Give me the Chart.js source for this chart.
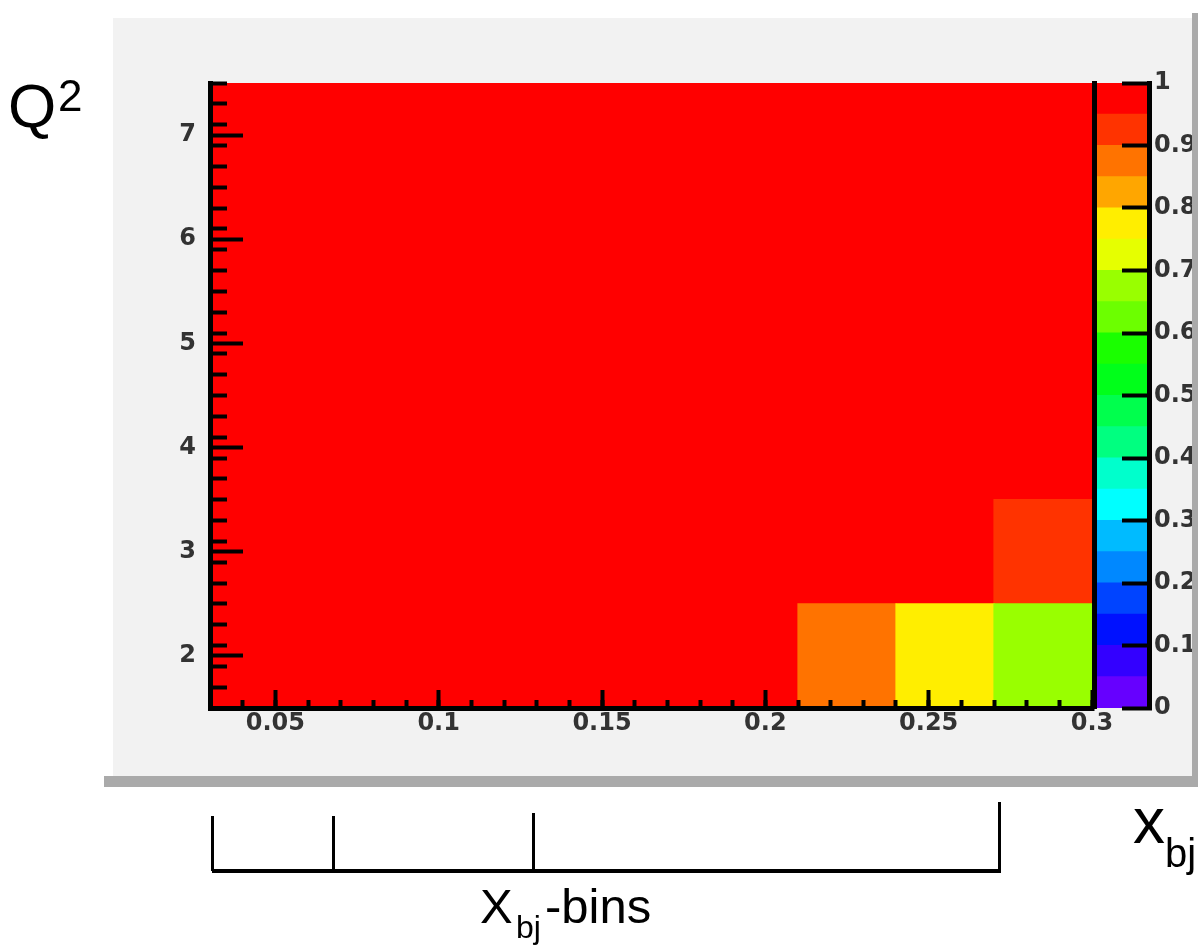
<!DOCTYPE html>
<html>
<head>
<meta charset="utf-8">
<title>Acceptance map</title>
<script src="https://cdn.jsdelivr.net/npm/chart.js@4.4.1/dist/chart.umd.min.js"></script>
<style>
  html, body { margin: 0; padding: 0; background: #fff; }
  body { width: 1198px; height: 946px; position: relative; overflow: hidden; }
  #pad { position: absolute; left: 113px; top: 18px; width: 1079px; height: 758px; background: #f2f2f2; }
  canvas { position: absolute; left: 0; top: 0; z-index: 2; }
  .shade { position: absolute; background: #aaaaaa; z-index: 3; }
  .t { position: absolute; font-family: 'Liberation Sans', Arial, sans-serif; line-height: 1; color: #000; white-space: nowrap; z-index: 4; }
</style>
</head>
<body>
<div id="pad"></div>
<canvas id="map" width="1198" height="946"></canvas>
<canvas id="palette" width="1198" height="946"></canvas>
<div class="shade" style="left:1192px;top:13px;width:6px;height:774px"></div>
<div class="shade" style="left:104px;top:776px;width:1094px;height:11px"></div>

<div class="t" style="left:8px;top:75px;font-size:62px">Q</div>
<div class="t" style="left:58px;top:74px;font-size:44px">2</div>

<div class="t" style="left:1133px;top:789px;font-size:64px">x</div>
<div class="t" style="left:1165px;top:833px;font-size:40px">bj</div>

<div class="t" style="left:480px;top:882px;font-size:49px">X</div>
<div class="t" style="left:516px;top:911px;font-size:32px">bj</div>
<div class="t" style="left:545px;top:882px;font-size:49px">-bins</div>

<script>
// bins of the map
const xbjCentres = [0.045, 0.075, 0.105, 0.135, 0.165, 0.195, 0.225, 0.255, 0.285];
const q2Low  = [1.5, 2.5, 3.5, 4.5, 5.5, 6.5];
const q2High = [2.5, 3.5, 4.5, 5.5, 6.5, 7.5];

// acceptance per x_bj bin, one row per Q^2 bin
const accQ2_2 = [1, 1, 1, 1, 1, 1, 0.87, 0.78, 0.67];
const accQ2_3 = [1, 1, 1, 1, 1, 1, 1, 1, 0.92];
const accQ2_4 = [1, 1, 1, 1, 1, 1, 1, 1, 1];
const accQ2_5 = [1, 1, 1, 1, 1, 1, 1, 1, 1];
const accQ2_6 = [1, 1, 1, 1, 1, 1, 1, 1, 1];
const accQ2_7 = [1, 1, 1, 1, 1, 1, 1, 1, 1];
const accRows = [accQ2_2, accQ2_3, accQ2_4, accQ2_5, accQ2_6, accQ2_7];

// axis ticks
const xbjTicks = [0.05, 0.1, 0.15, 0.2, 0.25, 0.3];
const q2Ticks = [2, 3, 4, 5, 6, 7];
const zTicks = [0, 0.1, 0.2, 0.3, 0.4, 0.5, 0.6, 0.7, 0.8, 0.9, 1];

// colour palette, bottom to top
const zLevels = [0, 0.05, 0.1, 0.15, 0.2, 0.25, 0.3, 0.35, 0.4, 0.45, 0.5,
                 0.55, 0.6, 0.65, 0.7, 0.75, 0.8, 0.85, 0.9, 0.95, 1];
const zColours = ['#6600ff', '#3300ff', '#0011ff', '#0044ff', '#0088ff',
                  '#00bbff', '#00ffff', '#00ffcc', '#00ff80', '#00ff4d',
                  '#00ff1a', '#1aff00', '#6cff00', '#99ff00', '#e6ff00',
                  '#ffee00', '#ffa600', '#ff7300', '#ff3300', '#ff0000'];

// x_bj bin boundaries shown under the plot
const binEdges = [0.0305, 0.0675, 0.129, 0.2715];

function colourFor(v) {
  let i = 0;
  while (i < zColours.length - 1 && v >= zLevels[i + 1]) i++;
  return zColours[i];
}

const tickFont = { family: 'DejaVu Sans', size: 24, weight: 'bold' };
const tickColour = '#333';

// bracket of the x_bj bins, drawn on the x scale
const binBracket = {
  id: 'binBracket',
  afterDraw(chart) {
    const ctx = chart.ctx;
    const x = chart.scales.x;
    const tops = [816, 816, 813, 802];
    const base = 871;
    const px = binEdges.map(e => Math.round(x.getPixelForValue(e)));
    ctx.save();
    ctx.strokeStyle = '#000';
    ctx.lineWidth = 4;
    ctx.beginPath();
    ctx.moveTo(px[0], base);
    ctx.lineTo(px[px.length - 1] + 2, base);
    ctx.stroke();
    ctx.lineWidth = 3;
    ctx.beginPath();
    px.forEach((p, i) => {
      ctx.moveTo(p + 0.5, tops[i]);
      ctx.lineTo(p + 0.5, base);
    });
    ctx.stroke();
    ctx.restore();
  }
};

// one floating-bar dataset per Q^2 row; bar width comes from the x spacing
const rowSets = accRows.map((row, r) => ({
  data: row.map((v, i) => ({ x: xbjCentres[i], y: [q2Low[r], q2High[r]], v: v })),
  backgroundColor: c => (c.raw ? colourFor(c.raw.v) : zColours[19]),
  borderWidth: 0,
  inflateAmount: 0.6,
  grouped: false,
  barPercentage: 1,
  categoryPercentage: 1,
  xAxisID: 'x',
  yAxisID: 'y'
}));

new Chart(document.getElementById('map'), {
  type: 'bar',
  data: { datasets: rowSets },
  plugins: [binBracket],
  options: {
    responsive: false,
    animation: false,
    devicePixelRatio: 1,
    events: [],
    layout: { padding: { left: 150, top: 83, right: 106, bottom: 198 } },
    plugins: { legend: { display: false }, tooltip: { enabled: false } },
    scales: {
      x: {
        type: 'linear', axis: 'x', position: 'bottom', min: 0.03, max: 0.3, offset: false, weight: 1,
        afterBuildTicks: s => { s.ticks = xbjTicks.map(v => ({ value: v })); },
        afterFit: s => { s.height = 40; },
        ticks: { callback: v => String(v), font: tickFont, color: tickColour, padding: 19, autoSkip: false, maxRotation: 0 },
        grid: { offset: false, drawOnChartArea: false, tickLength: -18, tickWidth: 4, tickColor: '#000', z: 1 },
        border: { display: true, width: 5, color: '#000', z: 2 }
      },
      xMinor: {
        type: 'linear', axis: 'x', position: 'bottom', min: 0.03, max: 0.3, offset: false, weight: 0,
        afterFit: s => { s.height = 0; },
        ticks: { stepSize: 0.01, includeBounds: false, display: false },
        grid: { offset: false, drawOnChartArea: false, tickLength: -8, tickWidth: 4, tickColor: '#000', z: 1 },
        border: { display: false }
      },
      y: {
        type: 'linear', axis: 'y', position: 'left', min: 1.5, max: 7.5, weight: 1,
        afterBuildTicks: s => { s.ticks = q2Ticks.map(v => ({ value: v })); },
        afterFit: s => { s.width = 60; },
        ticks: { callback: v => String(v), font: tickFont, color: tickColour, padding: 47 },
        grid: { drawOnChartArea: false, tickLength: -33, tickWidth: 4, tickColor: '#000', z: 1 },
        border: { display: true, width: 5, color: '#000', z: 2 }
      },
      yMinor: {
        type: 'linear', axis: 'y', position: 'left', min: 1.5, max: 7.5, weight: 0,
        afterFit: s => { s.width = 0; },
        ticks: { stepSize: 0.2, includeBounds: false, display: false },
        grid: { drawOnChartArea: false, tickLength: -17, tickWidth: 4, tickColor: '#000', z: 1 },
        border: { display: false }
      }
    }
  }
});

// colour scale beside the map
const zSets = zColours.map((col, i) => ({
  data: [[zLevels[i], zLevels[i + 1]]],
  backgroundColor: col,
  borderWidth: 0,
  inflateAmount: 0.6,
  grouped: false,
  barPercentage: 1,
  categoryPercentage: 1,
  yAxisID: 'z'
}));

new Chart(document.getElementById('palette'), {
  type: 'bar',
  data: { labels: [''], datasets: zSets },
  options: {
    responsive: false,
    animation: false,
    devicePixelRatio: 1,
    events: [],
    layout: { padding: { left: 1094, top: 83, right: 0, bottom: 238 } },
    plugins: { legend: { display: false }, tooltip: { enabled: false } },
    scales: {
      x: { display: false },
      z: {
        type: 'linear', axis: 'y', position: 'right', min: 0, max: 1, weight: 1,
        afterBuildTicks: s => { s.ticks = zTicks.map(v => ({ value: v })); },
        afterFit: s => { s.width = 49; },
        ticks: { callback: v => String(v), font: tickFont, color: tickColour, padding: 32 },
        grid: { drawOnChartArea: false, tickLength: -27, tickWidth: 4, tickColor: '#000', z: 1 },
        border: { display: true, width: 5, color: '#000', z: 2 }
      },
      edge: {
        type: 'linear', axis: 'y', position: 'left', min: 0, max: 1,
        afterFit: s => { s.width = 0; },
        ticks: { display: false },
        grid: { display: false },
        border: { display: true, width: 5, color: '#000', z: 2 }
      }
    }
  }
});
</script>
</body>
</html>
